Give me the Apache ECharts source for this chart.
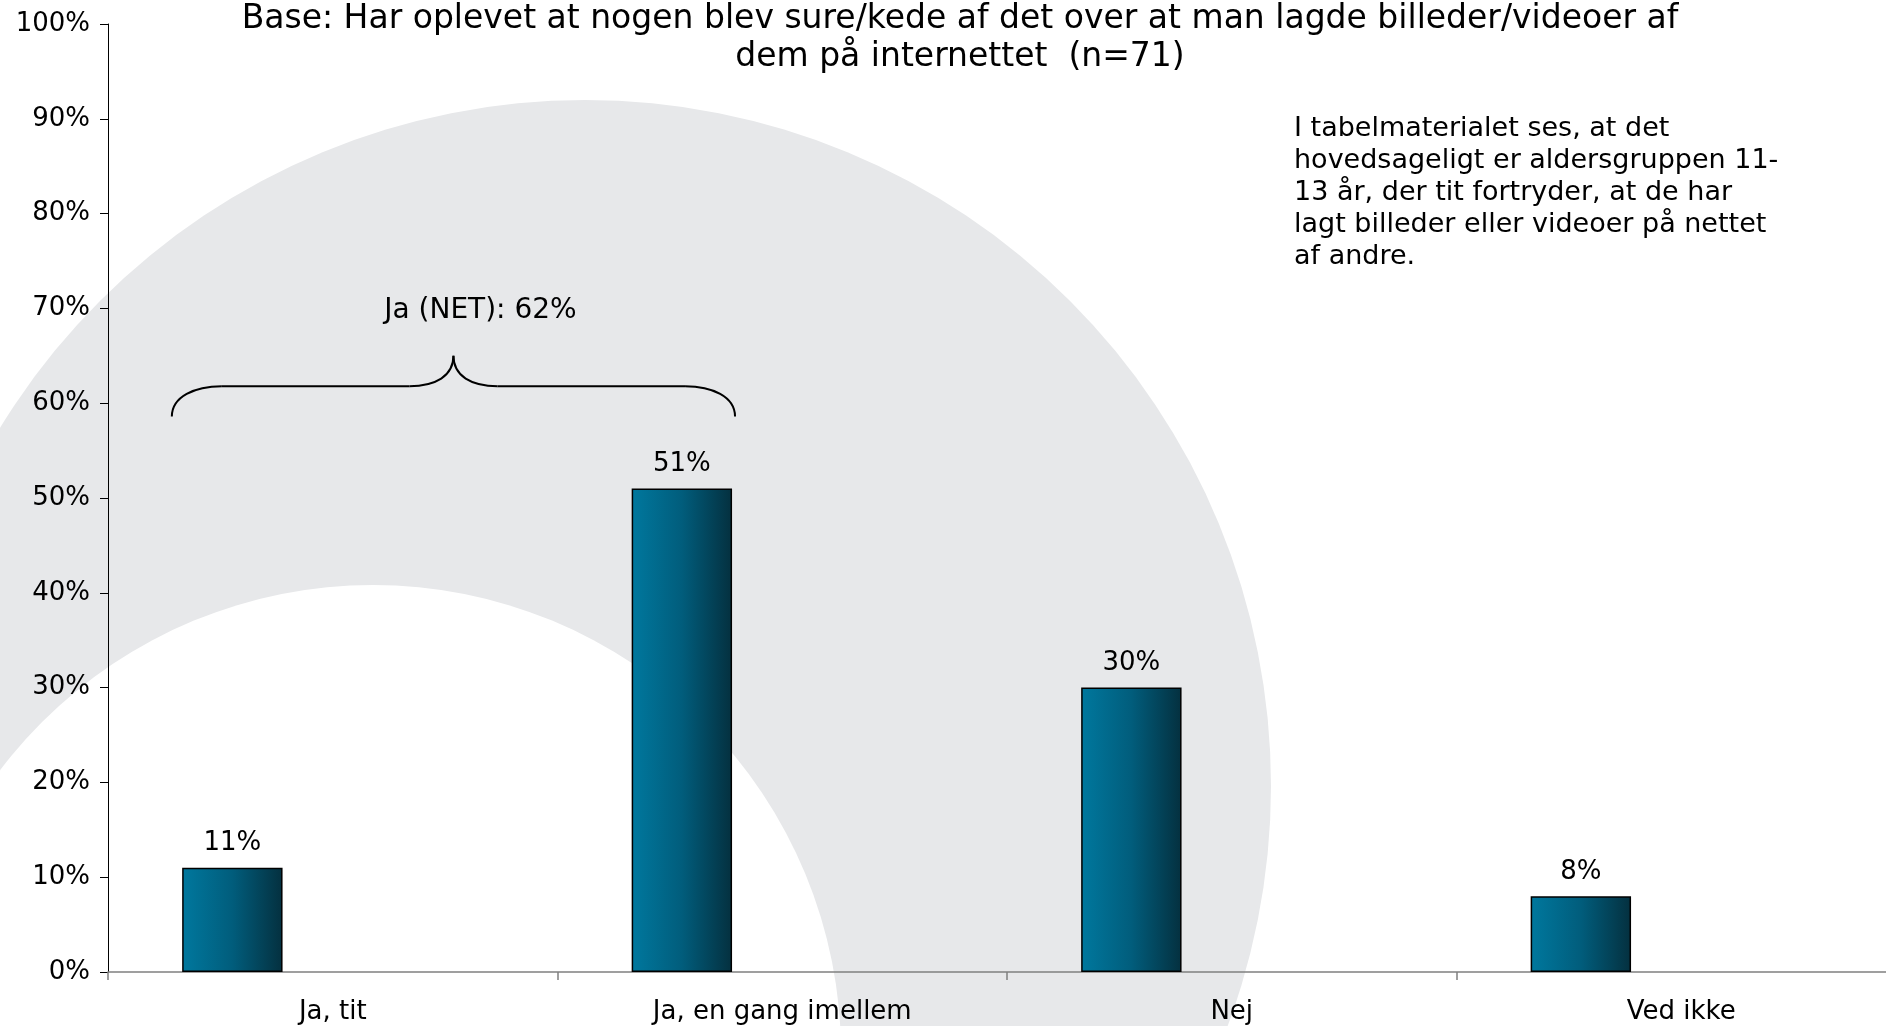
<!DOCTYPE html>
<html>
<head>
<meta charset="utf-8">
<script src="https://cdn.jsdelivr.net/npm/echarts@6/dist/echarts.min.js"></script>
<style>
  html, body { margin: 0; padding: 0; background: #fff; overflow: hidden; }
  /* x-aksen fortsætter ud over højre kant, ligesom i originalen */
  #chart { width: 1906px; height: 1026px; }
</style>
</head>
<body>
<div id="chart"></div>
<script>
// Data
var categories = ['Ja, tit', 'Ja, en gang imellem', 'Nej', 'Ved ikke'];
var values = [11, 51, 30, 8];
var emptySlot = ['-', '-', '-', '-']; // tom serie, giver plads til højre for søjlen
var yTicks = [0, 10, 20, 30, 40, 50, 60, 70, 80, 90, 100];
var titleLines = [
    'Base: Har oplevet at nogen blev sure/kede af det over at man lagde billeder/videoer af',
    'dem på internettet  (n=71)'
];
var noteLines = [
    'I tabelmaterialet ses, at det',
    'hovedsageligt er aldersgruppen 11-',
    '13 år, der tit fortryder, at de har',
    'lagt billeder eller videoer på nettet',
    'af andre.'
];
var netLabel = 'Ja (NET)';

var FONT = '"DejaVu Sans", Verdana, sans-serif';

var chartDom = document.getElementById('chart');
var myChart = echarts.init(chartDom);

var barColor = new echarts.graphic.LinearGradient(0, 0, 1, 0, [
    { offset: 0, color: '#00789e' },
    { offset: 0.5, color: '#015d7c' },
    { offset: 1, color: '#04303f' }
]);

var option = {
    backgroundColor: '#ffffff',
    animation: false,
    grid: { left: 108, right: 0, top: 24, bottom: 54, containLabel: false },
    xAxis: {
        type: 'category',
        data: categories,
        axisLine: { show: true, lineStyle: { color: '#808080', width: 1.5 } },
        axisTick: { show: true, length: 8, lineStyle: { color: '#808080', width: 1.5 } },
        axisLabel: { color: '#000', fontSize: 26, fontFamily: FONT, margin: 27 },
        splitLine: { show: false }
    },
    yAxis: {
        type: 'value',
        min: yTicks[0],
        max: yTicks[yTicks.length - 1],
        interval: yTicks[1] - yTicks[0],
        axisLine: { show: true, lineStyle: { color: '#000', width: 1 } },
        axisTick: { show: true, length: 8, lineStyle: { color: '#000', width: 1 } },
        axisLabel: {
            color: '#000', fontSize: 26, fontFamily: FONT, margin: 18,
            formatter: function (value) { return value + '%'; }
        },
        splitLine: { show: false }
    },
    series: [{
        type: 'bar',
        data: values,
        barCategoryGap: '33%',
        barGap: '100%',
        itemStyle: { color: barColor, borderColor: '#000', borderWidth: 1.5 },
        label: {
            show: true, position: 'top', distance: 11,
            color: '#000', fontSize: 26, fontFamily: FONT,
            formatter: function (p) { return p.value + '%'; }
        },
        z: 3
    }, {
        type: 'bar',
        data: emptySlot,
        barCategoryGap: '33%',
        barGap: '100%',
        silent: true
    }]
};

myChart.setOption(option);

// Baggrund + tekster + klamme
function drawExtras() {
    var c0 = myChart.convertToPixel({ xAxisIndex: 0 }, categories[0]);
    var c1 = myChart.convertToPixel({ xAxisIndex: 0 }, categories[1]);
    var w = c1 - c0;
    var left = c0 - w / 2 + w * 0.142;
    var right = c1 - w / 2 + w * 0.395;
    var tipX = (left + right) / 2;
    var yEnd = myChart.convertToPixel({ yAxisIndex: 0 }, 58.6);
    var yMid = myChart.convertToPixel({ yAxisIndex: 0 }, 61.8);
    var yTip = myChart.convertToPixel({ yAxisIndex: 0 }, 65);
    var yText = myChart.convertToPixel({ yAxisIndex: 0 }, 69.8);

    var net = values[0] + values[1];
    var braceStyle = { fill: null, stroke: '#000', lineWidth: 2 };

    function curve(x1, y1, cx1, cy1, cx2, cy2, x2, y2) {
        return {
            type: 'bezierCurve', z: 10, silent: true,
            shape: { x1: x1, y1: y1, cpx1: cx1, cpy1: cy1, cpx2: cx2, cpy2: cy2, x2: x2, y2: y2 },
            style: braceStyle
        };
    }
    function seg(x1, y1, x2, y2) {
        return { type: 'line', z: 10, silent: true, shape: { x1: x1, y1: y1, x2: x2, y2: y2 }, style: braceStyle };
    }

    myChart.setOption({
        graphic: [
            { type: 'circle', z: -20, silent: true, shape: { cx: 585, cy: 786, r: 686 }, style: { fill: '#e7e8ea' } },
            { type: 'circle', z: -19, silent: true, shape: { cx: 373, cy: 1053, r: 468 }, style: { fill: '#ffffff' } },
            {
                type: 'text', z: 10, silent: true,
                style: {
                    text: titleLines.join('\n'), x: 960, y: 0, align: 'center', verticalAlign: 'top',
                    font: '33px ' + FONT, lineHeight: 38, fill: '#000'
                }
            },
            {
                type: 'text', z: 10, silent: true,
                style: {
                    text: noteLines.join('\n'), x: 1294, y: 113, align: 'left', verticalAlign: 'top',
                    font: '27px ' + FONT, lineHeight: 32, fill: '#000'
                }
            },
            {
                type: 'text', z: 10, silent: true,
                style: {
                    text: netLabel + ': ' + net + '%', x: tipX + 27, y: yText, align: 'center', verticalAlign: 'middle',
                    font: '28px ' + FONT, fill: '#000'
                }
            },
            curve(left, yEnd, left, yEnd - 20, left + 23, yMid, left + 50, yMid),
            seg(left + 50, yMid, tipX - 44, yMid),
            curve(tipX - 44, yMid, tipX - 18, yMid, tipX, yMid - 10, tipX, yTip),
            curve(tipX, yTip, tipX, yMid - 10, tipX + 18, yMid, tipX + 44, yMid),
            seg(tipX + 44, yMid, right - 50, yMid),
            curve(right - 50, yMid, right - 23, yMid, right, yEnd - 20, right, yEnd)
        ]
    });
}

drawExtras();
</script>
</body>
</html>
